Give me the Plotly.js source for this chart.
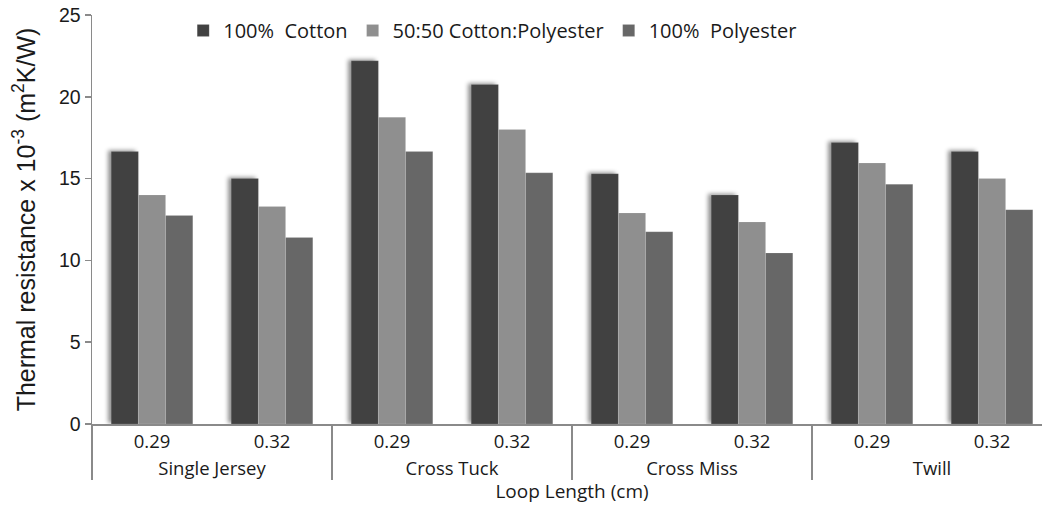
<!DOCTYPE html>
<html>
<head>
<meta charset="utf-8">
<script src="https://cdn.plot.ly/plotly-3.0.1.min.js"></script>
<style>
  html, body { margin: 0; padding: 0; background: #fff; overflow: hidden; }
  #chart { width: 1052px; height: 506px; }
  .barlayer .trace:first-child .point path { filter: drop-shadow(-3px -1px 2px rgba(0,0,0,0.45)); }
</style>
</head>
<body>
<div id="chart"></div>
<script>
const structures = ["Single Jersey", "Single Jersey", "Cross Tuck", "Cross Tuck", "Cross Miss", "Cross Miss", "Twill", "Twill"];
const loopLengths = ["0.29", "0.32", "0.29", "0.32", "0.29", "0.32", "0.29", "0.32"];
const cotton100 = [16.65, 15.0, 22.2, 20.75, 15.3, 14.0, 17.2, 16.65];
const blend5050 = [14.0, 13.3, 18.75, 18.0, 12.9, 12.35, 15.95, 15.0];
const polyester100 = [12.75, 11.4, 16.65, 15.35, 11.75, 10.45, 14.65, 13.1];
const seriesNames = ["100%  Cotton", "50:50 Cotton:Polyester", "100%  Polyester"];

const x = [structures, loopLengths];
const colors = ["#414141", "#8f8f8f", "#676767"];
const series = [cotton100, blend5050, polyester100];

const data = series.map((vals, i) => ({
  type: "bar",
  name: seriesNames[i],
  x: x,
  y: vals,
  marker: { color: colors[i], line: { color: "rgba(255,255,255,0.25)", width: 0.5 } }
}));

const fontFam = "Open Sans, Noto Sans, sans-serif";
const tickFont = { family: fontFam, size: 18.5, color: "#1a1a1a" };

const layout = {
  width: 1052,
  height: 506,
  margin: { l: 92, r: 0, t: 15, b: 82 },
  paper_bgcolor: "#ffffff",
  plot_bgcolor: "#ffffff",
  barmode: "group",
  bargap: 0.32,
  bargroupgap: 0,
  showlegend: true,
  legend: {
    orientation: "h",
    x: 0.095,
    xanchor: "left",
    y: 1.01,
    yanchor: "top",
    font: { family: fontFam, size: 20, color: "#1a1a1a" },
    itemwidth: 30,
    traceorder: "normal"
  },
  xaxis: {
    type: "multicategory",
    showline: true,
    linecolor: "#8a8a8a",
    linewidth: 1.5,
    showdividers: true,
    dividercolor: "#8a8a8a",
    dividerwidth: 1.5,
    tickfont: tickFont,
    title: { text: "Loop Length (cm)", font: { family: fontFam, size: 19, color: "#1a1a1a" }, standoff: 6 },
    showgrid: false,
    zeroline: false
  },
  yaxis: {
    range: [0, 25],
    dtick: 5,
    showline: true,
    linecolor: "#8a8a8a",
    linewidth: 1.5,
    ticks: "outside",
    ticklen: 6,
    tickcolor: "#8a8a8a",
    tickwidth: 1.5,
    showgrid: false,
    zeroline: false,
    tickfont: { family: "Liberation Sans, Arial, sans-serif", size: 19.5, color: "#1a1a1a" },
    title: {
      text: "Thermal resistance x 10<sup>-3</sup> (m<sup>2</sup>K/W)",
      font: { family: "Liberation Sans, Arial, sans-serif", size: 25, color: "#1a1a1a" },
      standoff: 16
    }
  }
};

Plotly.newPlot("chart", data, layout, { displayModeBar: false, staticPlot: true });
</script>
</body>
</html>
